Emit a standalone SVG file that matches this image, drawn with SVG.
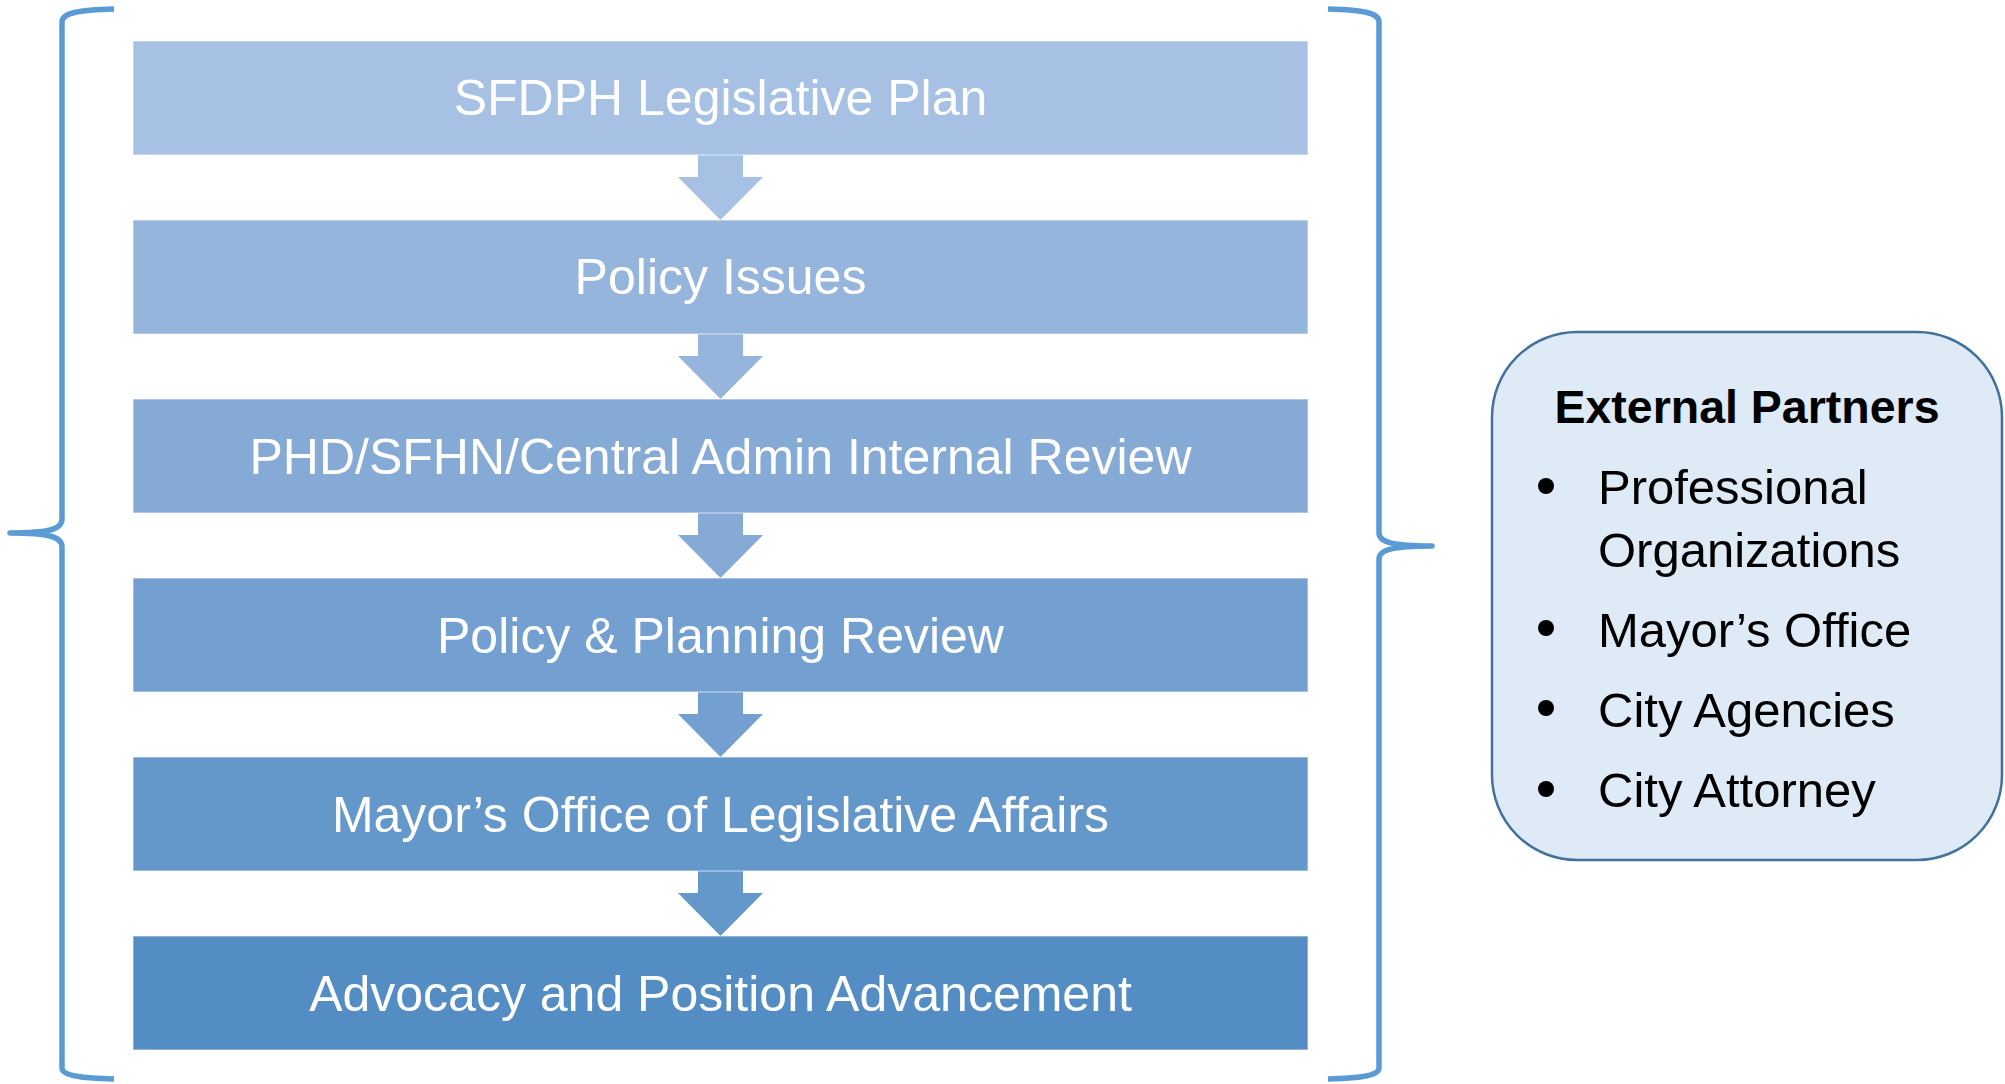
<svg xmlns="http://www.w3.org/2000/svg" width="2005" height="1084" viewBox="0 0 2005 1084">
  <style>
    .step { stroke: #ffffff; stroke-opacity: 0.45; stroke-width: 1.5; }
    .lbl { font-family: "Liberation Sans", Arial, sans-serif; font-size: 50px; fill: #ffffff; text-anchor: middle; }
    .brace { fill: none; stroke: #5B9BD5; stroke-width: 5.5; stroke-linecap: butt; stroke-linejoin: round; }
    .ttl { font-family: "Liberation Sans", Arial, sans-serif; font-size: 46.5px; font-weight: bold; fill: #000000; text-anchor: middle; }
    .item { font-family: "Liberation Sans", Arial, sans-serif; font-size: 49px; fill: #000000; }
  </style>
  <rect x="0" y="0" width="2005" height="1084" fill="#ffffff"/>

  <g id="braces">
    <path class="brace" d="M114,9 C78,10 62,13 62,22 L62,519 C62,529 50,533 10,533 C50,533 62,537 62,547 L62,1068 C62,1075 78,1078 114,1079"/>
    <path class="brace" d="M1328,9 C1364,10 1379,13 1379,22 L1379,533 C1379,542 1392,546 1432,546 C1392,546 1379,550 1379,559 L1379,1068 C1379,1075 1364,1078 1328,1079"/>
  </g>

  <g id="connectors">
    <polygon fill="#A6C1E4" points="698,155 743,155 743,177 763,177 720.5,220 678,177 698,177"/>
    <polygon fill="#95B5DD" points="698,334 743,334 743,356 763,356 720.5,399 678,356 698,356"/>
    <polygon fill="#85AAD6" points="698,513 743,513 743,535 763,535 720.5,578 678,535 698,535"/>
    <polygon fill="#73A0D0" points="698,692 743,692 743,714 763,714 720.5,757 678,714 698,714"/>
    <polygon fill="#6497CA" points="698,871 743,871 743,893 763,893 720.5,936 678,893 698,893"/>
  </g>

  <g id="step1">
    <rect class="step" x="133" y="41" width="1175" height="114" fill="#A6C1E4"/>
    <text class="lbl" x="720.5" y="115">SFDPH Legislative Plan</text>
  </g>
  <g id="step2">
    <rect class="step" x="133" y="220" width="1175" height="114" fill="#95B5DD"/>
    <text class="lbl" x="720.5" y="294">Policy Issues</text>
  </g>
  <g id="step3">
    <rect class="step" x="133" y="399" width="1175" height="114" fill="#85AAD6"/>
    <text class="lbl" x="720.5" y="474">PHD/SFHN/Central Admin Internal Review</text>
  </g>
  <g id="step4">
    <rect class="step" x="133" y="578" width="1175" height="114" fill="#73A0D0"/>
    <text class="lbl" x="720.5" y="653">Policy &amp; Planning Review</text>
  </g>
  <g id="step5">
    <rect class="step" x="133" y="757" width="1175" height="114" fill="#6497CA"/>
    <text class="lbl" x="720.5" y="832">Mayor’s Office of Legislative Affairs</text>
  </g>
  <g id="step6">
    <rect class="step" x="133" y="936" width="1175" height="114" fill="#548DC3"/>
    <text class="lbl" x="720.5" y="1011">Advocacy and Position Advancement</text>
  </g>

  <g id="external-partners">
    <rect x="1492" y="332" width="510" height="528" rx="85" ry="85" fill="#DEEAF6" stroke="#41719C" stroke-width="2.5"/>
    <text class="ttl" x="1747" y="423">External Partners</text>
    <circle cx="1546" cy="486" r="8" fill="#000000"/>
    <text class="item" x="1598" y="504">Professional</text>
    <text class="item" x="1598" y="567">Organizations</text>
    <circle cx="1546" cy="628" r="8" fill="#000000"/>
    <text class="item" x="1598" y="647">Mayor’s Office</text>
    <circle cx="1546" cy="708" r="8" fill="#000000"/>
    <text class="item" x="1598" y="727">City Agencies</text>
    <circle cx="1546" cy="789" r="8" fill="#000000"/>
    <text class="item" x="1598" y="807">City Attorney</text>
  </g>
</svg>
